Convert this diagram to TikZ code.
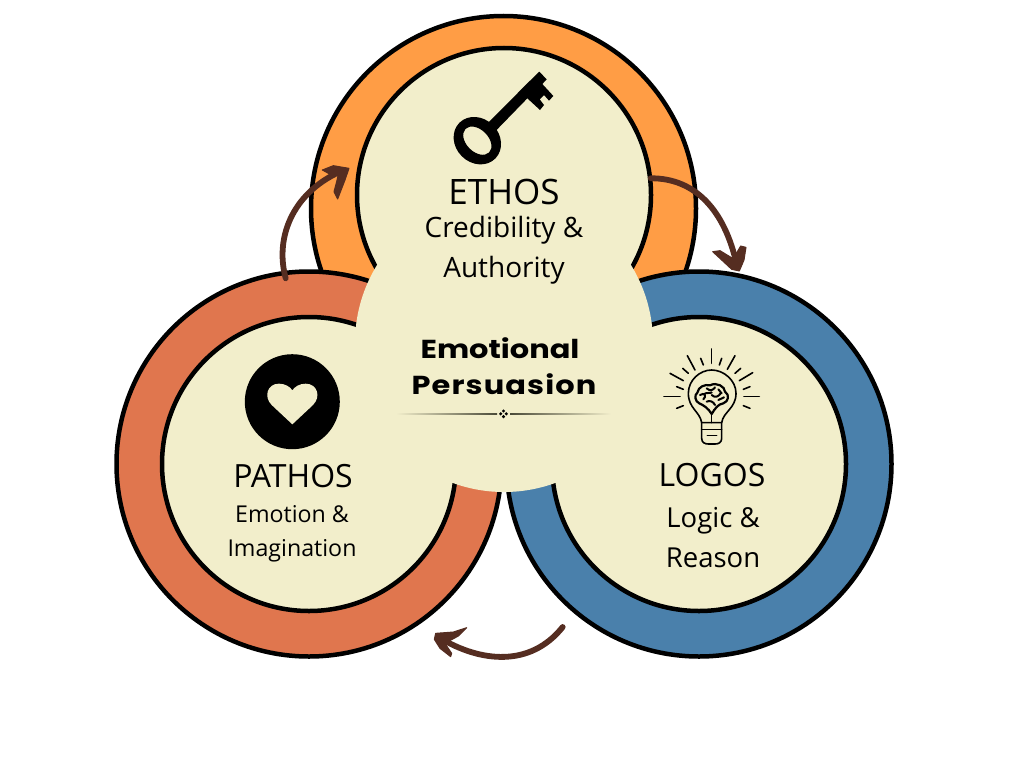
\documentclass[tikz,border=0pt]{standalone}
\usepackage{fontspec}
\setmainfont{Open Sans}
\newfontfamily\titlefont[FakeStretch=1.17]{Poppins Bold}
\definecolor{cream}{HTML}{F2EECB}
\definecolor{orangering}{HTML}{FF9D45}
\definecolor{redring}{HTML}{E0764E}
\definecolor{bluering}{HTML}{4A80AB}
\definecolor{arrowbrown}{HTML}{552D21}
\definecolor{rulecol}{HTML}{4A4A38}
\tikzset{
  ringdisc/.style={circle,draw=black,line width=4.5pt,minimum size=385pt,inner sep=0pt,outer sep=0pt},
  facedisc/.style={circle,draw=black,fill=cream,line width=4.5pt,minimum size=294pt,inner sep=0pt,outer sep=0pt},
  headline/.style={anchor=base,inner sep=0pt,font=\fontsize{#1}{#1}\selectfont},
  subline/.style={anchor=base,inner sep=0pt,font=\fontsize{#1}{#1}\selectfont},
  titleline/.style={anchor=base,inner sep=0pt,font=\titlefont\fontsize{26}{26}\selectfont},
  swoop/.style={draw=arrowbrown,line width=5.8pt,line cap=round,line join=round},
  swoophead/.style={fill=arrowbrown,draw=arrowbrown,line width=1pt,line join=round},
  thinicon/.style={draw=black,line width=1.6pt,line cap=round,line join=round}
}
\begin{document}
\begin{tikzpicture}[x=1pt,y=-1pt]
\useasboundingbox (0,0) rectangle (1024,768);
\fill[white] (0,0) rectangle (1024,768);
% rings
\node[ringdisc,fill=orangering] (ethosring) at (503.5,208.5) {};
\node[facedisc] (ethosface) at (504,195) {};
\node[ringdisc,fill=redring] (pathosring) at (309,464) {};
\node[facedisc] (pathosface) at (309,464) {};
\node[ringdisc,fill=bluering] (logosring) at (699,464) {};
\node[facedisc] (logosface) at (699,464) {};
\node[circle,fill=cream,minimum size=298pt,inner sep=0pt] (hub) at (504,343) {};
% key
\begin{scope}[shift={(440,60)},scale=1/3]
\fill[black] (135,198) -- (262,70) -- (298,35) -- (320,58) -- (307,72) -- (340,108) -- (327,122) -- (312,105) -- (299,118) -- (312,135) -- (300,150) -- (262,115) -- (160,220) -- cycle;
\fill[black,even odd rule,rotate around={-45:(112,242)}] (112,242) ellipse [x radius=76,y radius=66] (112,242) ellipse [x radius=50,y radius=33];
\end{scope}
% heart
\node[circle,fill=black,minimum size=95pt,inner sep=0pt] (heartdisc) at (292.3,401.7) {};
\begin{scope}[shift={(230,345)},scale=1/3]
\fill[cream] (187,238) -- (125,180) .. controls (100,155) and (112,116) .. (147,116) .. controls (165,116) and (180,125) .. (187,136) .. controls (194,125) and (209,116) .. (227,116) .. controls (262,116) and (274,155) .. (249,180) -- cycle;
\end{scope}
% bulb
\begin{scope}[shift={(650,340)},scale=1/3]
\foreach \a/\b/\c/\d in {185/27/185/70,112/47/135/90,152/55/160/75,255/47/232/88,215/55/208/75,60/100/100/122,98/85/115/100,308/98/268/122,272/85/255/100,42/170/90/170,282/170/328/170,80/140/100/148,300/140/280/148,80/205/100/197,300/205/280/197}
  \draw[thinicon] (\a,\b) -- (\c,\d);
\draw[thinicon] (155,248) .. controls (150,215) and (115,205) .. (115,160) .. controls (115,120) and (150,90) .. (185,90) .. controls (220,90) and (258,120) .. (258,160) .. controls (258,205) and (220,215) .. (215,248) -- cycle;
\draw[thinicon] (155,248) -- (155,295) .. controls (155,308) and (165,312) .. (175,312) -- (195,312) .. controls (205,312) and (215,308) .. (215,295) -- (215,248);
\draw[thinicon] (155,268) -- (215,268) (172,287) -- (200,287);
\draw[thinicon] (185,248) -- (185,222);
\draw[thinicon,line width=2.2pt] (185,222) .. controls (175,205) and (160,195) .. (148,190) .. controls (135,185) and (132,165) .. (142,158) .. controls (145,140) and (165,132) .. (180,136) .. controls (200,125) and (225,140) .. (225,155) .. controls (240,165) and (235,185) .. (220,190) .. controls (205,192) and (195,205) .. (185,222);
\draw[thinicon,line width=2pt] (150,165) .. controls (165,155) and (170,170) .. (160,178) (170,145) .. controls (180,155) and (190,150) .. (195,142) (185,165) .. controls (195,175) and (205,170) .. (212,160) (170,185) .. controls (180,180) and (190,185) .. (195,195) (205,180) -- (222,172) (165,160) -- (185,158) (205,148) -- (215,160);
\end{scope}
% texts
\node[headline=35] (ethoshead) at (504,204.5) {ETHOS};
\node[subline=28] (ethossub1) at (504,237) {Credibility \&};
\node[subline=28] (ethossub2) at (504,277) {Authority};
\node[titleline] (title1) at (500,358) {Emotional};
\node[titleline] (title2) at (504,394.5) {\addfontfeature{LetterSpace=4.3}Persuasion};
\node[headline=32] (pathoshead) at (293,487) {PATHOS};
\node[subline=23.2] (pathossub1) at (292,522) {Emotion \&};
\node[subline=23.2] (pathossub2) at (292,556) {Imagination};
\node[headline=32] (logoshead) at (712,486) {LOGOS};
\node[subline=27.5] (logossub1) at (713,527) {Logic \&};
\node[subline=27.5] (logossub2) at (713,567) {Reason};
% divider
\shade[left color=cream,right color=rulecol] (396,413) rectangle (497,414.6);
\shade[left color=rulecol,right color=cream] (510,413) rectangle (611,414.6);
\foreach \dx/\dy in {0/-2.8,0/2.8,-2.8/0,2.8/0} \fill[black] (503.5+\dx,413.8+\dy) circle [radius=1.7pt];
% arrows
\coordinate (a1s) at (285.7,278.3);
\coordinate (a1e) at (344,170);
\draw[swoop] (a1s) .. controls (274,235) and (295,190) .. (a1e);
\begin{scope}[shift={(270,150)},scale=1/3]
\fill[swoophead] (157,60) -- (190,47) -- (237,55) -- (225,90) -- (203,147) -- (192,125) -- (200,95) -- (205,72) -- (175,70) -- cycle;
\end{scope}
\coordinate (a2s) at (650.7,178.3);
\coordinate (a2e) at (737,266);
\draw[swoop] (a2s) .. controls (695,178) and (725,210) .. (a2e);
\begin{scope}[shift={(620,160)},scale=1/3]
\fill[swoophead] (278,275) -- (300,272) -- (338,295) -- (352,275) -- (362,258) -- (378,262) -- (372,300) -- (358,333) -- (335,328) -- (305,300) -- cycle;
\end{scope}
\coordinate (a3s) at (562.7,627);
\coordinate (a3e) at (440,638);
\draw[swoop] (a3s) .. controls (530,668) and (480,662) .. (a3e);
\begin{scope}[shift={(420,600)},scale=1/3]
\fill[swoophead] (140,83) -- (100,96) -- (47,100) -- (43,118) -- (60,145) -- (92,170) -- (95,160) -- (75,130) -- (115,108) -- cycle;
\end{scope}
\end{tikzpicture}
\end{document}
